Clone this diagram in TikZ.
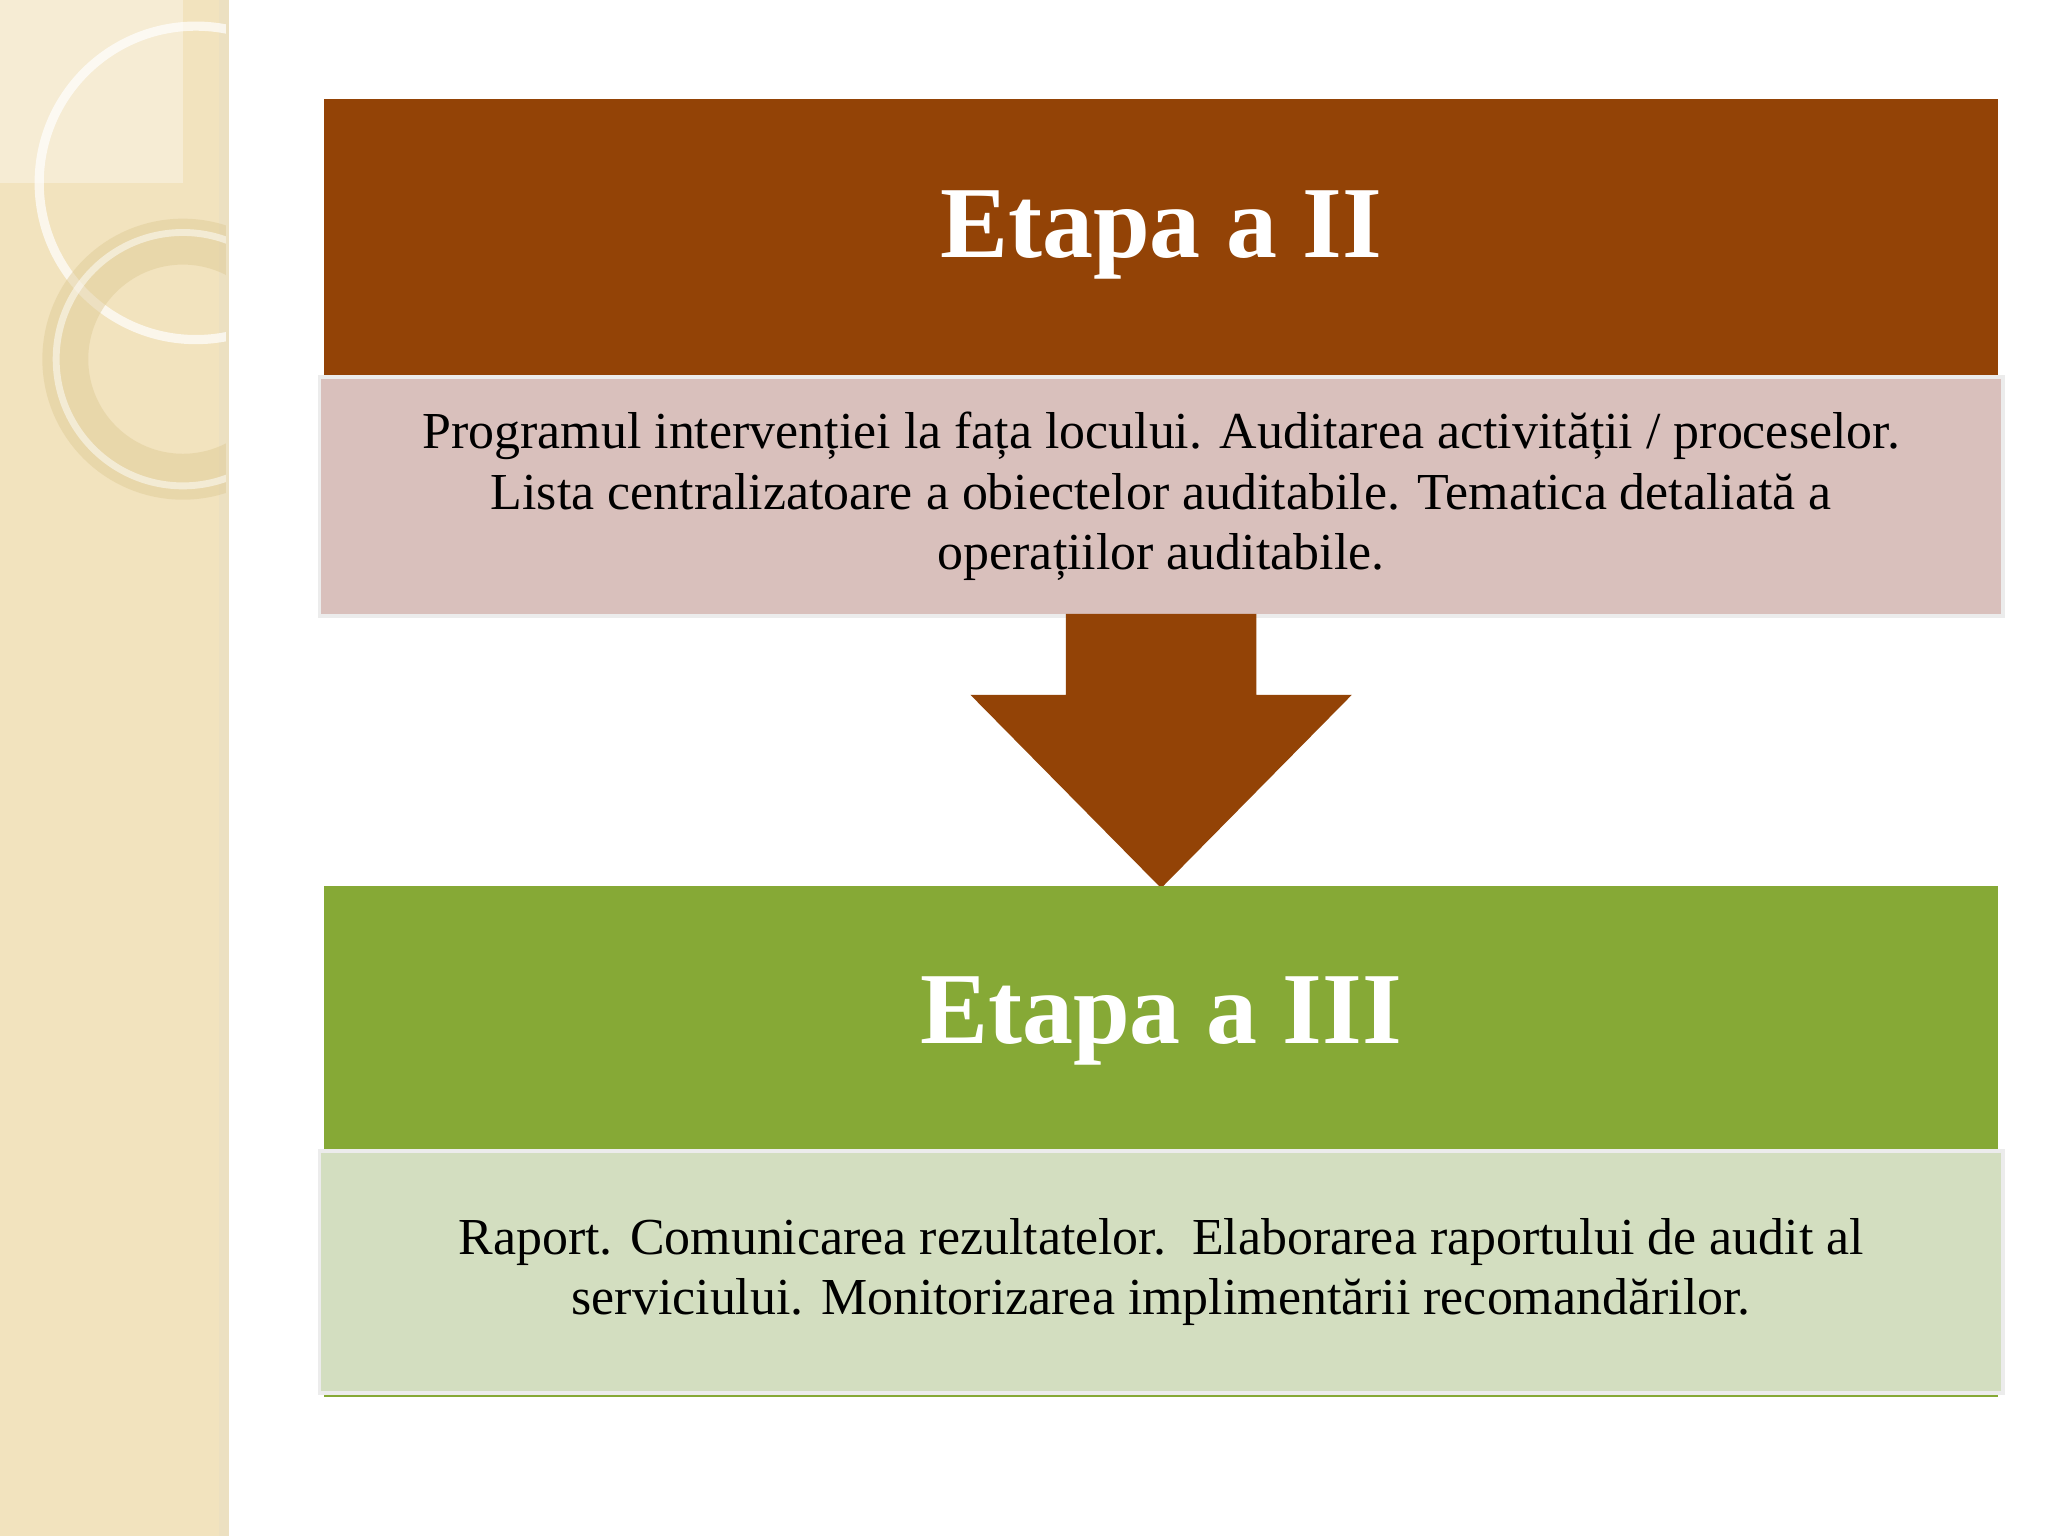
\documentclass[tikz,border=0pt]{standalone}
\usepackage{fontspec}
\setmainfont{Liberation Serif}
\definecolor{brownc}{HTML}{934306}
\definecolor{pinkc}{HTML}{D9C0BC}
\definecolor{greenc}{HTML}{86A936}
\definecolor{lgreenc}{HTML}{D3DEC0}
\definecolor{beige}{HTML}{F2E3BE}
\definecolor{ringc}{HTML}{E0CC98}
\tikzset{
 title/.style={text=white,font=\fontsize{22.2}{26}\selectfont\bfseries},
 body/.style={text=black,align=center,font=\fontsize{11.3}{13.1}\selectfont},
 bodybox/.style={draw=white!85!gray,line width=0.8pt}
}
\begin{document}
\begin{tikzpicture}[x=0.01cm,y=-0.01cm]
\useasboundingbox (0,0) rectangle (1568,1176);
\fill[white] (0,0) rectangle (1568,1176);
\fill[beige] (0,0) rectangle (173,1176);
\fill[ringc!60] (168,0) rectangle (175,1176);
\begin{scope}
\clip (0,0) rectangle (173,1176);
\fill[white,opacity=0.35] (0,0) rectangle (140,140);
\draw[white,line width=2pt,opacity=0.7] (150,140) circle (120);
\draw[ringc,line width=10pt,opacity=0.5] (140,275) circle (90);
\draw[white,line width=1.5pt,opacity=0.5] (140,275) circle (97);
\end{scope}
\fill[brownc] (248,76) rectangle (1530,287);
\node[title] (t2) at (889,180) {Etapa a II};
\node[bodybox,fill=pinkc,minimum width=12.88cm,minimum height=1.83cm,body,anchor=north] (b2) at (889,287)
 {Programul intervenției la fața locului. Auditarea activității / proceselor.\\ Lista centralizatoare a obiectelor auditabile. Tematica detaliată a\\ operațiilor auditabile.};
\fill[brownc] (816,470) -- (962,470) -- (962,532) -- (1035,532) -- (889,680) -- (743,532) -- (816,532) -- cycle;
\fill[greenc] (248,678) rectangle (1530,880);
\node[title] (t3) at (889,782) {Etapa a III};
\draw[greenc,line width=2pt] (248,1066) -- (1530,1066);
\node[bodybox,fill=lgreenc,minimum width=12.88cm,minimum height=1.85cm,body,anchor=north] (b3) at (889,880)
 {Raport. Comunicarea rezultatelor.\ \ Elaborarea raportului de audit al\\ serviciului. Monitorizarea implimentării recomandărilor.};
\end{tikzpicture}
\end{document}
